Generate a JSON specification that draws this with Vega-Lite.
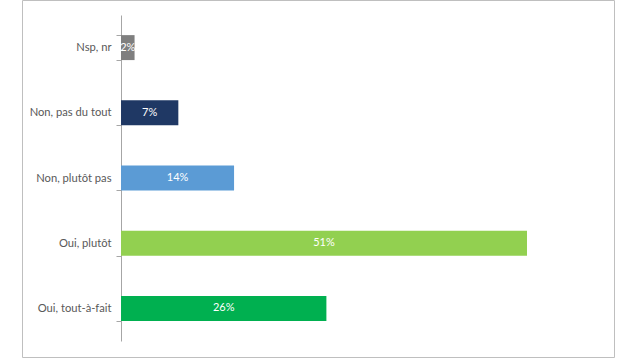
{
  "$schema": "https://vega.github.io/schema/vega-lite/v6.json",
  "width": 592,
  "height": 357,
  "autosize": {"type": "none"},
  "padding": {"left": 22, "top": 0, "right": 22, "bottom": 1},
  "background": "white",
  "config": {"view": {"stroke": "#bfbfbf", "strokeWidth": 1}, "font": "Lato"},
  "data": {
    "values": [
      {"cat": "Nsp, nr", "value": 1.7, "label": "2%"},
      {"cat": "Non, pas du tout", "value": 7.2, "label": "7%"},
      {"cat": "Non, plutôt pas", "value": 14.2, "label": "14%"},
      {"cat": "Oui, plutôt", "value": 51, "label": "51%"},
      {"cat": "Oui, tout-à-fait", "value": 25.8, "label": "26%"}
    ]
  },
  "encoding": {
    "y": {
      "field": "cat",
      "type": "nominal",
      "sort": null,
      "scale": {"range": [15, 341], "paddingInner": 0.617, "paddingOuter": 0.3085},
      "axis": {
        "title": null,
        "offset": -99,
        "domainColor": "#a6a6a6",
        "tickColor": "#a6a6a6",
        "tickSize": 5,
        "tickBand": "extent",
        "labelColor": "#595959",
        "labelFontSize": 11.2,
        "labelFont": "Lato",
        "labelPadding": 5
      }
    }
  },
  "layer": [
    {
      "mark": {"type": "bar"},
      "encoding": {
        "x": {"field": "value", "type": "quantitative", "scale": {"domain": [-12.44, 61.93], "nice": false, "zero": false}, "axis": null},
        "color": {
          "field": "cat",
          "type": "nominal",
          "scale": {
            "domain": ["Nsp, nr", "Non, pas du tout", "Non, plutôt pas", "Oui, plutôt", "Oui, tout-à-fait"],
            "range": ["#7f7f7f", "#1f3864", "#5b9bd5", "#92d050", "#00b050"]
          },
          "legend": null
        }
      }
    },
    {
      "transform": [{"calculate": "datum.value / 2", "as": "mid"}],
      "mark": {"type": "text", "color": "white", "fontSize": 11, "font": "Lato"},
      "encoding": {
        "x": {"field": "mid", "type": "quantitative"},
        "text": {"field": "label"}
      }
    }
  ]
}
